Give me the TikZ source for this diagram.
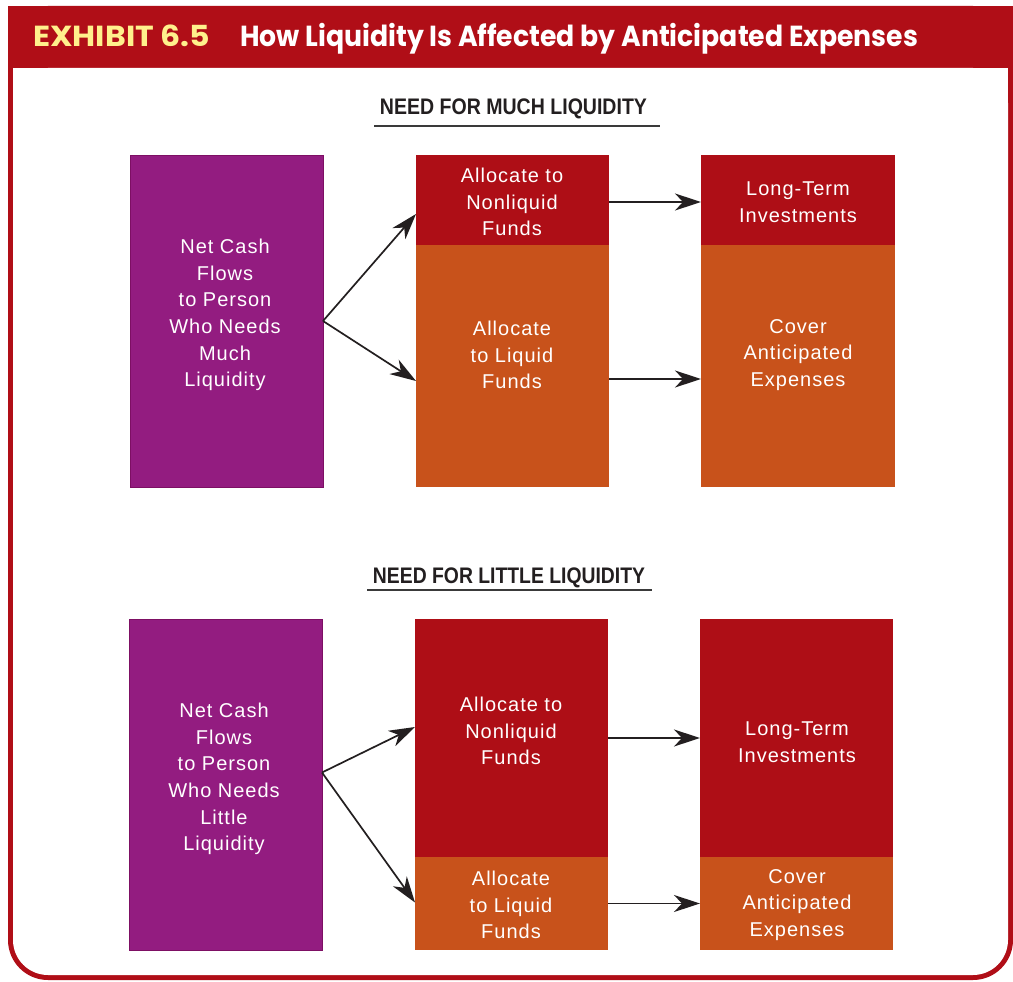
\documentclass[tikz,border=0pt]{standalone}
\usepackage{fontspec}
\usepackage{graphicx}
\setmainfont{Liberation Sans}
\newfontfamily\boxfont{Liberation Sans}[LetterSpace=5]
\newfontfamily\headfont{Poppins}
\usetikzlibrary{arrows.meta}

\definecolor{framered}{HTML}{B00E17}
\definecolor{cellred}{HTML}{AE0E16}
\definecolor{cellorange}{HTML}{C8521B}
\definecolor{cellpurple}{HTML}{931C80}
\definecolor{purpleedge}{HTML}{7D0F64}
\definecolor{hdryellow}{HTML}{FFF08C}
\definecolor{inkc}{HTML}{231F20}
\definecolor{rulec}{HTML}{3A3A3A}

\tikzset{
  cell/.style={rectangle, inner sep=0pt, outer sep=0pt, anchor=north west, minimum width=193pt},
  srccell/.style={cell, fill=cellpurple, draw=purpleedge, line width=1pt},
  redcell/.style={cell, fill=cellred},
  orgcell/.style={cell, fill=cellorange},
  txt/.style={text=white, font=\boxfont\fontsize{20}{26.7}\selectfont, align=center, inner sep=0pt},
  flow/.style={draw=inkc, line width=1.7pt, -{Stealth[length=26pt,width=17pt,inset=8pt]}},
  sectitle/.style={anchor=base, inner sep=0pt, text=inkc},
}

\begin{document}
\begin{tikzpicture}[x=1pt,y=-1pt]
\useasboundingbox (0,0) rectangle (1013,982);
\fill[white] (0,0) rectangle (1013,982);

% frame: red band on top, thin red border with rounded bottom corners
\fill[framered, rounded corners=40pt] (8,6) rectangle (1013,980);
\fill[framered] (8,6) rectangle (1013,100);
\fill[white, rounded corners=35pt] (13,68) rectangle (1008,975);
\fill[white] (13,68) rectangle (1008,200);

% heading
\node[anchor=base west, inner sep=0pt, text=hdryellow] (exh) at (33,47)
  {\resizebox{177pt}{\height}{\headfont\bfseries\fontsize{29}{30}\selectfont EXHIBIT 6.5}};
\node[anchor=base west, inner sep=0pt, text=white] (ttl) at (240,47)
  {\resizebox{678pt}{\height}{\headfont\bfseries\fontsize{29}{30}\selectfont How Liquidity Is Affected by Anticipated Expenses}};

% ---------- need for much liquidity ----------
\node[sectitle] (sec1) at (513.5,115)
  {\resizebox{267pt}{\height}{\bfseries\fontsize{22.5}{24}\selectfont NEED FOR MUCH LIQUIDITY}};
\coordinate (u1a) at (374,126);
\coordinate (u1b) at (660,126);
\draw[rulec, line width=2pt] (u1a) -- (u1b);

\node[srccell, minimum height=332pt] (p1) at (130,155) {};
\node[redcell, minimum height=90pt] (m1a) at (416,155) {};
\node[orgcell, minimum height=242pt] (m1b) at (416,245) {};
\node[redcell, minimum height=90pt, minimum width=194pt] (r1a) at (701,155) {};
\node[orgcell, minimum height=242pt, minimum width=194pt] (r1b) at (701,245) {};

\node[txt] (p1t) at (225,315) {Net Cash\\Flows\\to Person\\Who Needs\\Much\\Liquidity};
\node[txt] (m1at) at (512,202) {Allocate to\\Nonliquid\\Funds};
\node[txt] (m1bt) at (512,355) {Allocate\\to Liquid\\Funds};
\node[txt] (r1at) at (798,202) {Long-Term\\Investments};
\node[txt] (r1bt) at (798,355) {Cover\\Anticipated\\Expenses};

\draw[flow] (p1.east) -- ([yshift=-14pt]m1a.west);
\draw[flow] (p1.east) -- ([yshift=-15pt]m1b.west);
\draw[flow] ([yshift=-2pt]m1a.east) -- ([yshift=-2pt]r1a.west);
\draw[flow] ([yshift=-13pt]m1b.east) -- ([yshift=-13pt]r1b.west);

% ---------- need for little liquidity ----------
\node[sectitle] (sec2) at (509,583)
  {\resizebox{272pt}{\height}{\bfseries\fontsize{22.5}{24}\selectfont NEED FOR LITTLE LIQUIDITY}};
\coordinate (u2a) at (367,590);
\coordinate (u2b) at (652,590);
\draw[rulec, line width=2pt] (u2a) -- (u2b);

\node[srccell, minimum height=331pt] (p2) at (129,619) {};
\node[redcell, minimum height=238pt] (m2a) at (415,619) {};
\node[orgcell, minimum height=93pt] (m2b) at (415,857) {};
\node[redcell, minimum height=238pt] (r2a) at (700,619) {};
\node[orgcell, minimum height=93pt] (r2b) at (700,857) {};

\node[txt] (p2t) at (224,779) {Net Cash\\Flows\\to Person\\Who Needs\\Little\\Liquidity};
\node[txt] (m2at) at (511,731) {Allocate to\\Nonliquid\\Funds};
\node[txt] (m2bt) at (511,905) {Allocate\\to Liquid\\Funds};
\node[txt] (r2at) at (797,742) {Long-Term\\Investments};
\node[txt] (r2bt) at (797,905) {Cover\\Anticipated\\Expenses};

\draw[flow] ([yshift=12pt]p2.east) -- ([yshift=11pt]m2a.west);
\draw[flow] ([yshift=12pt]p2.east) -- ([yshift=1pt]m2b.west);
\draw[flow] (m2a.east) -- (r2a.west);
\draw[flow] (m2b.east) -- (r2b.west);
\end{tikzpicture}
\end{document}
